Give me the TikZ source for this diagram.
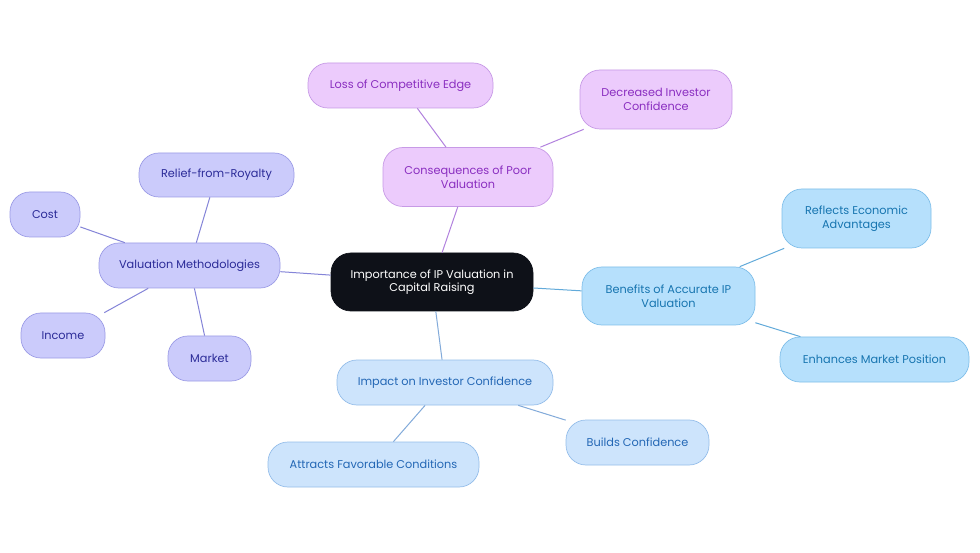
\documentclass[tikz,border=0pt]{standalone}
\usepackage{fontspec}
\setmainfont{Poppins}
\definecolor{pfill}{HTML}{ECCBFC}
\definecolor{pdraw}{HTML}{C79AE6}
\definecolor{ptext}{HTML}{8A2EC0}
\definecolor{pedge}{HTML}{B282DE}
\definecolor{lfill}{HTML}{CBCBFB}
\definecolor{ldraw}{HTML}{9C9CE6}
\definecolor{ltext}{HTML}{2B2B98}
\definecolor{ledge}{HTML}{8484D8}
\definecolor{bfill}{HTML}{B6E0FC}
\definecolor{bdraw}{HTML}{80BFEA}
\definecolor{btext}{HTML}{1775B0}
\definecolor{bedge}{HTML}{62AADA}
\definecolor{ifill}{HTML}{CDE4FC}
\definecolor{idraw}{HTML}{95BEEA}
\definecolor{itext}{HTML}{2367B5}
\definecolor{iedge}{HTML}{82AADA}
\definecolor{cfill}{HTML}{0E1118}
\begin{document}
\begin{tikzpicture}[x=1pt,y=-1pt,
  box/.style={rounded corners=20pt, align=center, inner sep=0pt, font=\fontsize{11.3}{13.5}\selectfont, line width=0.7pt},
  pbox/.style={box, fill=pfill, draw=pdraw, text=ptext},
  lbox/.style={box, fill=lfill, draw=ldraw, text=ltext},
  bbox/.style={box, fill=bfill, draw=bdraw, text=btext},
  ibox/.style={box, fill=ifill, draw=idraw, text=itext},
  cbox/.style={box, fill=cfill, draw=cfill, text=white},
  pline/.style={draw=pedge, line width=1pt},
  lline/.style={draw=ledge, line width=1pt},
  bline/.style={draw=bedge, line width=1pt},
  iline/.style={draw=iedge, line width=1pt}]
\useasboundingbox (0,0) rectangle (980,553);
\fill[white] (0,0) rectangle (980,553);
% nodes
\node[cbox, minimum width=202pt, minimum height=58pt] (c) at (432,282) {Importance of IP Valuation in\\Capital Raising};
\node[pbox, minimum width=170pt, minimum height=59pt] (cons) at (468,177) {Consequences of Poor\\Valuation};
\node[pbox, minimum width=185pt, minimum height=45pt] (loss) at (400.5,85.5) {Loss of Competitive Edge};
\node[pbox, minimum width=152pt, minimum height=59pt] (dec) at (656,99.5) {Decreased Investor\\Confidence};
\node[lbox, minimum width=181pt, minimum height=45pt] (vm) at (189.5,265.5) {Valuation Methodologies};
\node[lbox, minimum width=155pt, minimum height=44pt] (rr) at (216.5,175) {Relief-from-Royalty};
\node[lbox, minimum width=70pt, minimum height=45pt] (cost) at (45,214.5) {Cost};
\node[lbox, minimum width=84pt, minimum height=45pt] (inc) at (63,335.5) {Income};
\node[lbox, minimum width=83pt, minimum height=45pt] (mkt) at (209.5,358.5) {Market};
\node[bbox, minimum width=173pt, minimum height=58pt] (ben) at (668.5,296) {Benefits of Accurate IP\\Valuation};
\node[bbox, minimum width=149pt, minimum height=59pt] (ref) at (856.5,218.5) {Reflects Economic\\Advantages};
\node[bbox, minimum width=189pt, minimum height=45pt] (enh) at (874.5,359.5) {Enhances Market Position};
\node[ibox, minimum width=216pt, minimum height=45pt] (imp) at (445,382.5) {Impact on Investor Confidence};
\node[ibox, minimum width=143pt, minimum height=45pt] (bld) at (637.5,442.5) {Builds Confidence};
\node[ibox, minimum width=211pt, minimum height=45pt] (att) at (373.5,464.5) {Attracts Favorable Conditions};
% edges
\path[pline] (c) -- (cons);
\path[pline] (cons) -- (loss);
\path[pline] (cons) -- (dec);
\path[lline] (c) -- (vm);
\path[lline] (vm) -- (rr);
\path[lline] (vm) -- (cost);
\path[lline] (vm) -- (inc);
\path[lline] (vm) -- (mkt);
\path[bline] (c) -- (ben);
\path[bline] (ben) -- (ref);
\path[bline] (ben) -- (enh);
\path[iline] (c) -- (imp);
\path[iline] (imp) -- (bld);
\path[iline] (imp) -- (att);
\end{tikzpicture}
\end{document}
